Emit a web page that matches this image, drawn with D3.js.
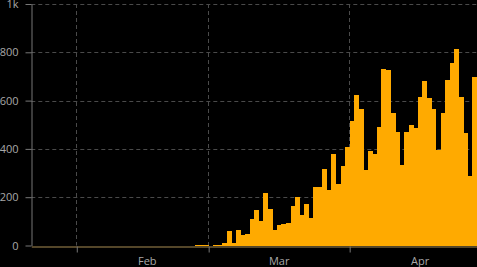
<!DOCTYPE html>
<html>
<head>
<meta charset="utf-8">
<script src="https://cdn.jsdelivr.net/npm/d3@7"></script>
<style>
  html, body { margin: 0; padding: 0; background: #000; overflow: hidden; }
  svg { display: block; font-family: "Open Sans", sans-serif; }
</style>
</head>
<body>
<script>
const startDay = "2020-01-22";
const endDay = "2020-04-29";

// daily values from Jan 22 onward
const values = [
  0, 0, 0, 0, 0, 0, 0, 0, 0, 0,                         // Jan 22-31
  0, 0, 0, 0, 0, 0, 0, 0, 0, 0, 0, 0, 0, 0, 0, 0, 0, 0, 0, 0,
  0, 0, 0, 0, 0, 0, 4, 1, 4,                            // Feb
  0, 1, 4, 12, 60, 10, 65, 43, 47, 109, 146, 101, 218, 150, 63, 84,
  88, 92, 163, 200, 126, 171, 113, 242, 242, 316, 229, 378, 254, 329, 407, // Mar
  515, 623, 565, 312, 391, 378, 490, 730, 726, 548, 470, 333, 470, 498,
  486, 614, 681, 610, 565, 395, 548, 685, 755, 813, 614, 465, 287, 697  // Apr
];

const yTicks = [0, 200, 400, 600, 800, 1000];
const yTickLabels = ["0", "200", "400", "600", "800", "1k"];
const monthStarts = ["2020-02-01", "2020-03-01", "2020-04-01"];
const monthLabels = ["Feb", "Mar", "Apr"];

const W = 477, H = 267;
const margin = { top: 4, right: 0, bottom: 21.5, left: 31.3 };

const parse = d3.utcParse("%Y-%m-%d");
const t0 = parse(startDay);
const data = values.map((v, i) => ({ day: d3.utcDay.offset(t0, i), value: v }));

const x = d3.scaleUtc()
    .domain([t0, parse(endDay)])
    .range([margin.left, W - margin.right]);
const y = d3.scaleLinear()
    .domain([0, 1000])
    .range([H - margin.bottom, margin.top]);

const svg = d3.select("body").append("svg")
    .attr("width", W)
    .attr("height", H);

// horizontal grid
svg.append("g")
    .selectAll("line")
    .data(yTicks.filter(d => d > 0))
    .join("line")
    .attr("x1", margin.left)
    .attr("x2", W)
    .attr("y1", d => Math.round(y(d)) + 0.5)
    .attr("y2", d => Math.round(y(d)) + 0.5)
    .attr("stroke", "#4a4a4a")
    .attr("stroke-dasharray", "4,3");

// vertical grid at month starts
svg.append("g")
    .selectAll("line")
    .data(monthStarts.map(parse))
    .join("line")
    .attr("x1", d => Math.floor(x(d)) + 0.5)
    .attr("x2", d => Math.floor(x(d)) + 0.5)
    .attr("y1", margin.top)
    .attr("y2", y(0))
    .attr("stroke", "#4a4a4a")
    .attr("stroke-dasharray", "4,3");

// bars
svg.append("g")
    .selectAll("rect")
    .data(data.filter(d => d.value > 0))
    .join("rect")
    .attr("x", d => x(d.day))
    .attr("width", d => x(d3.utcDay.offset(d.day, 1)) - x(d.day) + 0.4)
    .attr("y", d => y(d.value))
    .attr("height", d => y(0) - y(d.value))
    .attr("fill", "#ffaa00")
    .attr("shape-rendering", "crispEdges");

// x axis
const xAxis = d3.axisBottom(x)
    .tickValues(monthStarts.map(parse))
    .tickFormat("")
    .tickSize(6)
    .tickSizeOuter(0);

const gx = svg.append("g")
    .attr("transform", `translate(0,${Math.round(y(0)) + 0.5})`)
    .call(xAxis);
gx.select(".domain").attr("stroke", "#a88c52");
gx.selectAll(".tick line").attr("stroke", "#777");

svg.append("g")
    .selectAll("text")
    .data(monthStarts.map(parse))
    .join("text")
    .attr("x", d => x(d3.utcHour.offset(d, 15.5 * 24)))
    .attr("y", 265)
    .attr("text-anchor", "middle")
    .attr("fill", "#a8a8a8")
    .style("font-size", "11px")
    .text((d, i) => monthLabels[i]);

// y axis
const yAxis = d3.axisLeft(y)
    .tickValues(yTicks)
    .tickFormat((d, i) => yTickLabels[i])
    .tickSize(6)
    .tickPadding(7)
    .tickSizeOuter(0);

const gy = svg.append("g")
    .attr("transform", `translate(${Math.floor(margin.left) + 0.5},0)`)
    .call(yAxis);
gy.select(".domain").attr("stroke", "#777");
gy.selectAll(".tick line").attr("stroke", "#777");
gy.selectAll(".tick text")
    .attr("fill", "#a8a8a8")
    .style("font-size", "11px")
    .style("font-family", "'Open Sans', sans-serif");
</script>
</body>
</html>
